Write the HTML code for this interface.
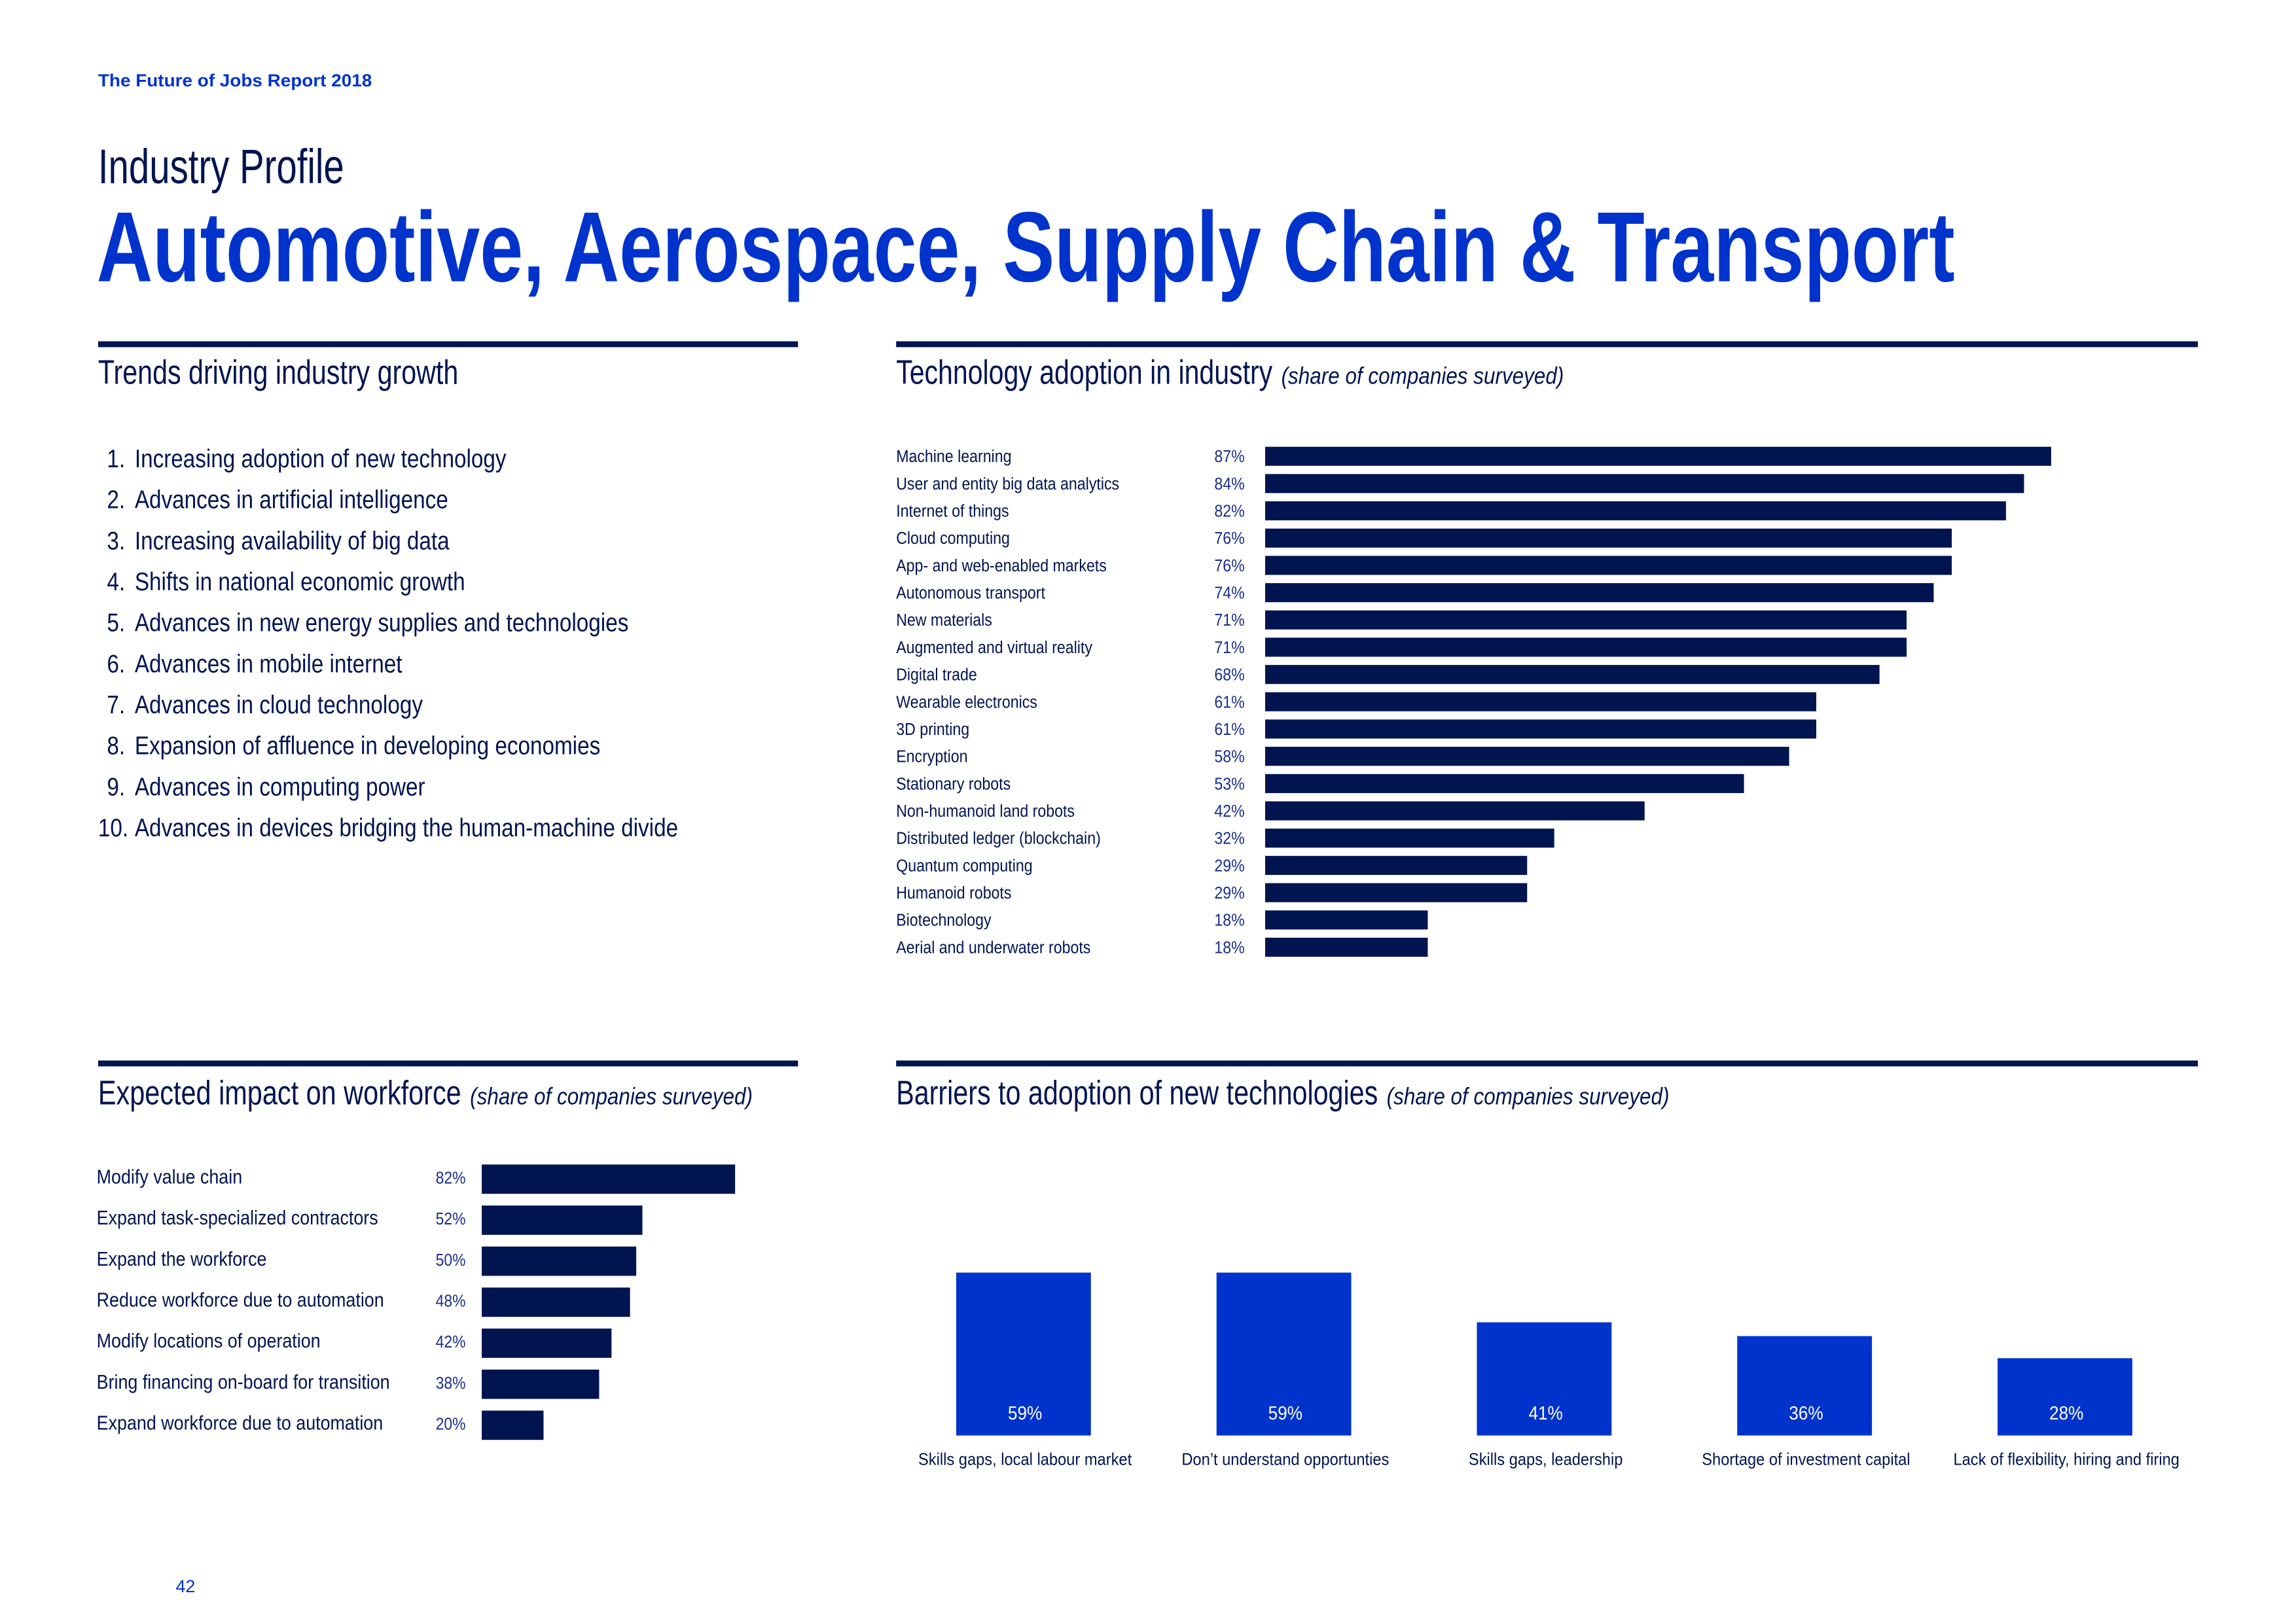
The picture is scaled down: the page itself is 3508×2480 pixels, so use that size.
<!DOCTYPE html>
<html><head><meta charset="utf-8">
<style>
html,body{margin:0;padding:0;background:#fff;}
svg{display:block;}
text{font-family:"Liberation Sans Narrow","Liberation Sans",sans-serif;}
</style></head>
<body>
<svg id="page" width="3508" height="2480" viewBox="0 0 1568 1108" preserveAspectRatio="none" xmlns="http://www.w3.org/2000/svg">
<rect width="1568" height="1108" fill="#fff"/>
<text x="67" y="59" font-size="12" fill="#0033cc" font-weight="bold" style="font-family:'Liberation Sans',sans-serif" textLength="187" lengthAdjust="spacingAndGlyphs">The Future of Jobs Report 2018</text>
<text x="67" y="125" font-size="33" fill="#001450" textLength="168" lengthAdjust="spacingAndGlyphs">Industry Profile</text>
<text x="66" y="192" font-size="68" font-weight="bold" fill="#0033cc" textLength="1269" lengthAdjust="spacingAndGlyphs">Automotive, Aerospace, Supply Chain &amp; Transport</text>

<rect x="67" y="233" width="478" height="4" fill="#001450"/>
<rect x="612" y="233" width="889" height="4" fill="#001450"/>
<rect x="67" y="724" width="478" height="4" fill="#001450"/>
<rect x="612" y="724" width="889" height="4" fill="#001450"/>

<text x="67" y="262" font-size="23" fill="#001450" textLength="246" lengthAdjust="spacingAndGlyphs">Trends driving industry growth</text>
<text x="612" y="262" font-size="23" fill="#001450"><tspan textLength="257" lengthAdjust="spacingAndGlyphs">Technology adoption in industry</tspan><tspan font-size="16" font-style="italic" dx="6" textLength="193" lengthAdjust="spacingAndGlyphs">(share of companies surveyed)</tspan></text>
<text x="67" y="754" font-size="23" fill="#001450"><tspan textLength="248" lengthAdjust="spacingAndGlyphs">Expected impact on workforce</tspan><tspan font-size="16" font-style="italic" dx="6" textLength="193" lengthAdjust="spacingAndGlyphs">(share of companies surveyed)</tspan></text>
<text x="612" y="754" font-size="23" fill="#001450"><tspan textLength="329" lengthAdjust="spacingAndGlyphs">Barriers to adoption of new technologies</tspan><tspan font-size="16" font-style="italic" dx="6" textLength="193" lengthAdjust="spacingAndGlyphs">(share of companies surveyed)</tspan></text>

<g id="trends"></g>
<g id="tech"></g>
<g id="work"></g>
<g id="barr"></g>

<text x="120" y="1087" font-size="12" fill="#0033cc">42</text>
</svg>
<script>
const trendItems = ["Increasing adoption of new technology","Advances in artificial intelligence","Increasing availability of big data","Shifts in national economic growth","Advances in new energy supplies and technologies","Advances in mobile internet","Advances in cloud technology","Expansion of affluence in developing economies","Advances in computing power","Advances in devices bridging the human-machine divide"];
const techCategories = ["Machine learning","User and entity big data analytics","Internet of things","Cloud computing","App- and web-enabled markets","Autonomous transport","New materials","Augmented and virtual reality","Digital trade","Wearable electronics","3D printing","Encryption","Stationary robots","Non-humanoid land robots","Distributed ledger (blockchain)","Quantum computing","Humanoid robots","Biotechnology","Aerial and underwater robots"];
const techValues = [87,84,82,76,76,74,71,71,68,61,61,58,53,42,32,29,29,18,18];
const workCategories = ["Modify value chain","Expand task-specialized contractors","Expand the workforce","Reduce workforce due to automation","Modify locations of operation","Bring financing on-board for transition","Expand workforce due to automation"];
const workValues = [82,52,50,48,42,38,20];
const barrierCategories = ["Skills gaps, local labour market","Don\u2019t understand opportunties","Skills gaps, leadership","Shortage of investment capital","Lack of flexibility, hiring and firing"];
const barrierValues = [59,59,41,36,28];

const NS="http://www.w3.org/2000/svg";
function mk(tag, attrs, parent, txt){
  const e=document.createElementNS(NS,tag);
  for(const k in attrs) e.setAttribute(k,attrs[k]);
  if(txt!==undefined) e.textContent=txt;
  parent.appendChild(e); return e;
}
function txt(x,y,s,attrs,parent,t){
  attrs.x=0; attrs.y=0;
  attrs.transform='translate('+x+','+y+') scale('+s+',1)';
  return mk('text',attrs,parent,t);
}
// trends
const tg=document.getElementById('trends');
trendItems.forEach((t,i)=>{
  const y=319+i*28;
  const n=txt((i<9?73:67),y,0.85,{'font-size':17.5,fill:'#001450'},tg,(i+1)+'.');
  
  
  const s=txt(92,y,0.85,{'font-size':17.5,fill:'#001450'},tg,t);
  
  
});
// tech chart
const tech=document.getElementById('tech');
const techX=v=>v*6.17;
const techY=i=>305+i*18.62;
techCategories.forEach((c,i)=>{
  const y=techY(i);
  const l=txt(612,y+10.5,0.9,{'font-size':11.5,fill:'#001450'},tech,c);
  
  
  const p=txt(850,y+10.5,0.9,{'font-size':11.5,fill:'#1a2e8a','text-anchor':'end'},tech,techValues[i]+'%');
  
  
  const b=mk('rect',{x:864,y:y,width:techX(techValues[i]),height:13,fill:'#001450'},tech);
  
  
});
// workforce chart
const work=document.getElementById('work');
const workX=v=>v*2.11;
const workY=i=>795+i*28;
workCategories.forEach((c,i)=>{
  const y=workY(i);
  const l=txt(66,y+13,0.89,{'font-size':13.5,fill:'#001450'},work,c);
  
  
  const p=txt(318,y+13,0.89,{'font-size':11.5,fill:'#1a2e8a','text-anchor':'end'},work,workValues[i]+'%');
  
  
  const b=mk('rect',{x:329,y:y,width:workX(workValues[i]),height:20,fill:'#001450'},work);
  
  
});
// barriers chart
const barr=document.getElementById('barr');
const base=980;
const barH=v=>v*1.885;
const barCx=i=>699+i*177.8;
barrierCategories.forEach((c,i)=>{
  const cx=barCx(i), h=barH(barrierValues[i]);
  const b=mk('rect',{x:cx-46,y:base-h,width:92,height:h,fill:'#0033cc'},barr);
  
  
  const p=txt(cx+1,base-11,0.9,{'font-size':13,fill:'#fff','text-anchor':'middle'},barr,barrierValues[i]+'%');
  
  
  const l=txt(cx+1,1000,0.92,{'font-size':11.5,fill:'#001450','text-anchor':'middle'},barr,c);
  
  
});
</script>
</body></html>
